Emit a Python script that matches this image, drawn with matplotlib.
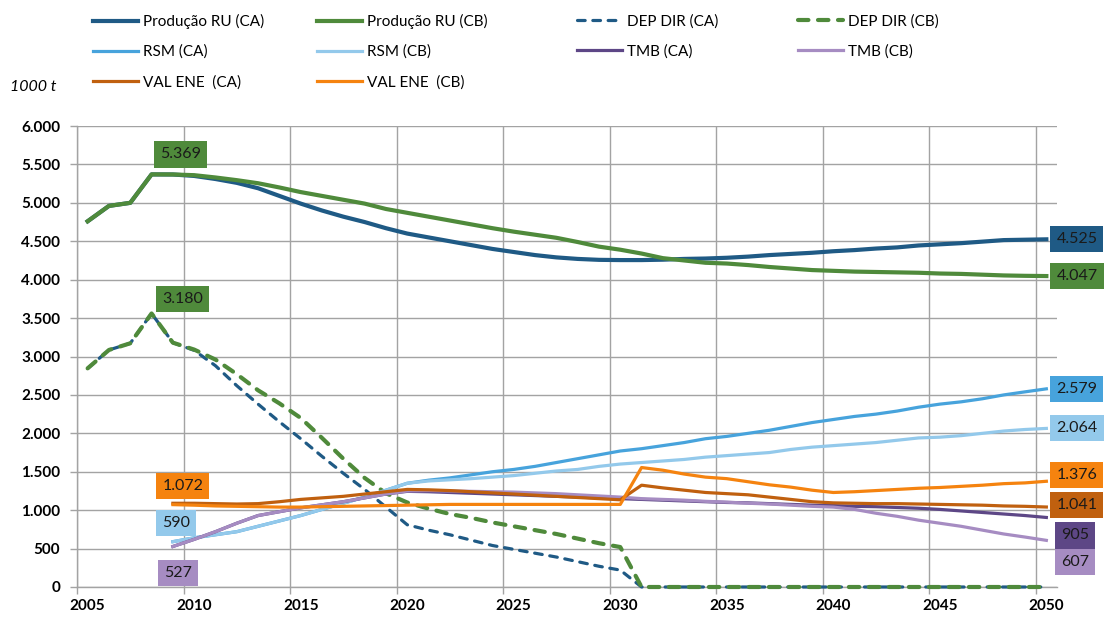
import matplotlib
matplotlib.use("Agg")
import matplotlib.pyplot as plt
from matplotlib.ticker import FuncFormatter

plt.rcParams['font.family'] = ['Lato', 'DejaVu Sans']

# ---- data (1000 t) ----
years = list(range(2005, 2051))
years_from_2009 = list(range(2009, 2051))

prod_ca = [4760, 4960, 5000, 5370, 5369, 5350, 5310, 5260, 5190, 5090,
           4990, 4900, 4820, 4750, 4670, 4600, 4550, 4500, 4450, 4400,
           4360, 4320, 4290, 4270, 4258, 4255, 4255, 4260, 4270, 4275,
           4285, 4300, 4320, 4335, 4350, 4370, 4385, 4405, 4420, 4445,
           4460, 4475, 4495, 4515, 4520, 4525]
prod_cb = [4760, 4960, 5000, 5370, 5369, 5360, 5330, 5295, 5255, 5200,
           5140, 5090, 5040, 4990, 4920, 4870, 4820, 4770, 4720, 4670,
           4625, 4585, 4545, 4490, 4430, 4390, 4340, 4280, 4250, 4220,
           4210, 4190, 4165, 4145, 4125, 4115, 4105, 4100, 4095, 4090,
           4080, 4075, 4065, 4055, 4050, 4047]
dep_ca = [2846, 3085, 3172, 3560, 3180, 3080, 2880, 2620, 2380, 2150,
          1930, 1700, 1480, 1270, 1040, 810, 740, 680, 610, 540,
          490, 440, 390, 330, 270, 220, 0, 0, 0, 0,
          0, 0, 0, 0, 0, 0, 0, 0, 0, 0,
          0, 0, 0, 0, 0, 0]
dep_cb = [2846, 3085, 3172, 3560, 3180, 3090, 2960, 2770, 2560, 2390,
          2200, 1940, 1670, 1420, 1220, 1100, 1020, 950, 900, 840,
          790, 740, 690, 630, 570, 520, 0, 0, 0, 0,
          0, 0, 0, 0, 0, 0, 0, 0, 0, 0,
          0, 0, 0, 0, 0, 0]
rsm_ca = [590, 640, 680, 720, 790, 860, 930, 1010, 1090, 1170,
          1260, 1350, 1390, 1420, 1460, 1500, 1530, 1570, 1620, 1670,
          1720, 1770, 1800, 1840, 1880, 1930, 1960, 2000, 2040, 2090,
          2140, 2180, 2220, 2250, 2290, 2340, 2380, 2410, 2450, 2500,
          2540, 2579]
rsm_cb = [590, 640, 680, 720, 790, 860, 930, 1010, 1090, 1170,
          1260, 1350, 1380, 1395, 1410, 1430, 1450, 1480, 1510, 1530,
          1570, 1600, 1620, 1640, 1660, 1690, 1710, 1730, 1750, 1790,
          1820, 1840, 1860, 1880, 1910, 1940, 1950, 1970, 2000, 2030,
          2050, 2064]
tmb_ca = [527, 620, 720, 830, 930, 980, 1030, 1070, 1110, 1160,
          1210, 1245, 1240, 1230, 1220, 1210, 1200, 1190, 1180, 1170,
          1160, 1150, 1140, 1130, 1120, 1110, 1100, 1095, 1085, 1075,
          1065, 1060, 1050, 1045, 1035, 1025, 1010, 990, 970, 950,
          930, 905]
tmb_cb = [527, 620, 720, 830, 930, 980, 1030, 1070, 1110, 1160,
          1210, 1250, 1255, 1250, 1245, 1240, 1235, 1225, 1215, 1200,
          1185, 1170, 1150, 1140, 1130, 1115, 1105, 1090, 1080, 1065,
          1050, 1040, 1010, 960, 920, 870, 830, 790, 740, 690,
          650, 607]
val_ca = [1090, 1090, 1085, 1080, 1085, 1110, 1140, 1160, 1180, 1210,
          1240, 1270, 1265, 1255, 1240, 1225, 1210, 1195, 1180, 1165,
          1150, 1135, 1325, 1290, 1260, 1230, 1215, 1200, 1170, 1140,
          1110, 1095, 1090, 1085, 1085, 1080, 1075, 1070, 1065, 1055,
          1050, 1041]
val_cb = [1072, 1065, 1055, 1050, 1045, 1040, 1040, 1045, 1050, 1055,
          1060, 1065, 1070, 1075, 1075, 1075, 1075, 1075, 1075, 1075,
          1075, 1075, 1555, 1520, 1470, 1430, 1410, 1370, 1330, 1300,
          1260, 1230, 1240, 1255, 1270, 1285, 1295, 1310, 1325, 1345,
          1355, 1376]

# ---- styles ----
C_PROD_CA = '#1f5a85'
C_PROD_CB = '#4f8a3b'
C_RSM_CA = '#47a3dc'
C_RSM_CB = '#93c9eb'
C_TMB_CA = '#5d4786'
C_TMB_CB = '#a68cc2'
C_VAL_CA = '#c0600f'
C_VAL_CB = '#f5830f'
GRID = '#a3a3a3'
PX = 0.72  # points per pixel at dpi 100

fig = plt.figure(figsize=(11.05, 6.19), dpi=100)
ax = fig.add_axes([77 / 1105, 1 - 587 / 619, 980 / 1105, 461 / 619])

series = [
    ('Produção RU (CA)', years, prod_ca, dict(color=C_PROD_CA, lw=3.0)),
    ('Produção RU (CB)', years, prod_cb, dict(color=C_PROD_CB, lw=3.0)),
    ('DEP DIR (CA)', years, dep_ca, dict(color=C_PROD_CA, lw=2.3, dashes=(2.4, 2.4),
                                          dash_capstyle='round')),
    ('DEP DIR (CB)', years, dep_cb, dict(color=C_PROD_CB, lw=3.0, dashes=(2.5, 2.3),
                                          dash_capstyle='round')),
    ('RSM (CA)', years_from_2009, rsm_ca, dict(color=C_RSM_CA, lw=2.3)),
    ('RSM (CB)', years_from_2009, rsm_cb, dict(color=C_RSM_CB, lw=2.3)),
    ('TMB (CA)', years_from_2009, tmb_ca, dict(color=C_TMB_CA, lw=2.3)),
    ('TMB (CB)', years_from_2009, tmb_cb, dict(color=C_TMB_CB, lw=2.3)),
    ('VAL ENE  (CA)', years_from_2009, val_ca, dict(color=C_VAL_CA, lw=2.3)),
    ('VAL ENE  (CB)', years_from_2009, val_cb, dict(color=C_VAL_CB, lw=2.3)),
]

handles = {}
for z, (name, xs, ys, st) in enumerate(series):
    ln, = ax.plot(xs, ys, label=name, clip_on=False, zorder=3 + z * 0.1,
                  solid_joinstyle='round', **st)
    handles[name] = ln

# ---- axes ----
ax.set_xlim(2004.5, 2050.5)
ax.set_ylim(0, 6000)
ax.set_xticks(list(range(2005, 2051, 5)))
ax.set_xticks([y - 0.5 for y in range(2005, 2051, 5)], minor=True)
ax.set_yticks(list(range(0, 6001, 500)))
ax.yaxis.set_major_formatter(FuncFormatter(lambda v, p: f"{v:,.0f}".replace(',', '.')))
ax.tick_params(axis='x', which='major', length=0, pad=8.5, labelsize=11)
ax.tick_params(axis='x', which='minor', length=5, width=1.0, color=GRID)
ax.tick_params(axis='y', which='major', length=5, width=1.0, color=GRID, pad=7, labelsize=11)
for lab in ax.get_xticklabels() + ax.get_yticklabels():
    lab.set_fontweight('bold')
ax.grid(True, axis='y', which='major', color=GRID, lw=1.0)
ax.grid(True, axis='x', which='minor', color=GRID, lw=1.0)
ax.grid(False, axis='x', which='major')
for s in ['top', 'right']:
    ax.spines[s].set_visible(False)
for s in ['left', 'bottom']:
    ax.spines[s].set_color(GRID)
    ax.spines[s].set_linewidth(1.0)
ax.set_axisbelow(True)

# ---- value labels ----
def tag(x, y, color, dx, dy, ha='center'):
    ax.annotate(f"{y:,.0f}".replace(',', '.'), xy=(x, y),
                xytext=(dx * PX, dy * PX), textcoords='offset points',
                ha=ha, va='center', fontsize=11.5, color='#1a1a1a',
                annotation_clip=False, zorder=10,
                bbox=dict(boxstyle='square,pad=0.38', fc=color, ec='none'))

i09 = years.index(2009)
tag(2009, prod_cb[i09], C_PROD_CB, 8, 20)
tag(2009, dep_cb[i09], C_PROD_CB, 10, 44)
tag(2009, val_cb[0], C_VAL_CB, 10, 18.5)
tag(2009, rsm_cb[0], C_RSM_CB, 3.5, 18.5)
tag(2009, tmb_cb[0], C_TMB_CB, 5, -26.5)

tag(2050, prod_ca[-1], C_PROD_CA, 10, 0, ha='left')
tag(2050, prod_cb[-1], C_PROD_CB, 10, 0, ha='left')
tag(2050, rsm_ca[-1], C_RSM_CA, 10, 0, ha='left')
tag(2050, rsm_cb[-1], C_RSM_CB, 10, 0, ha='left')
tag(2050, val_cb[-1], C_VAL_CB, 10, 6, ha='left')
tag(2050, val_ca[-1], C_VAL_CA, 10, 2, ha='left')
tag(2050, tmb_ca[-1], C_TMB_CA, 15, -18, ha='left')
tag(2050, tmb_cb[-1], C_TMB_CB, 15, -21.5, ha='left')

# ---- legend: four columns ----
columns = [
    (93, ['Produção RU (CA)', 'RSM (CA)', 'VAL ENE  (CA)']),
    (317, ['Produção RU (CB)', 'RSM (CB)', 'VAL ENE  (CB)']),
    (577, ['DEP DIR (CA)', 'TMB (CA)']),
    (798, ['DEP DIR (CB)', 'TMB (CB)']),
]
for xpx, names in columns:
    fig.legend([handles[n] for n in names], names, loc='upper left',
               bbox_to_anchor=(xpx / 1105, 1 - 14 / 619), frameon=False,
               fontsize=11, borderpad=0, borderaxespad=0, handlelength=2.95,
               handletextpad=0.33, labelspacing=1.03)

fig.text(10 / 1105, 1 - 87 / 619, '1000 t', fontsize=11.5, style='italic',
         va='center', ha='left')

fig.savefig('out.png', dpi=100)
